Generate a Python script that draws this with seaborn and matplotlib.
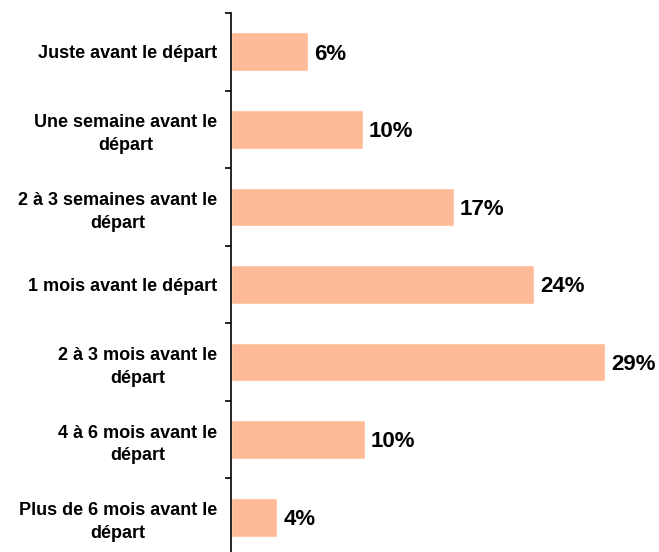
import pandas as pd
import seaborn as sns
import matplotlib.pyplot as plt

# Données
moments = [
    "Juste avant le départ",
    "Une semaine avant le\ndépart",
    "2 à 3 semaines avant le\ndépart",
    "1 mois avant le départ",
    "2 à 3 mois avant le\ndépart",
    "4 à 6 mois avant le\ndépart",
    "Plus de 6 mois avant le\ndépart",
]
pourcentages = [6.0, 10.2, 17.3, 23.5, 29.0, 10.4, 3.6]
etiquettes = ["6%", "10%", "17%", "24%", "29%", "10%", "4%"]

df = pd.DataFrame({"moment": moments, "pct": pourcentages})

sns.set_style("white")
plt.rcParams["font.family"] = ["Liberation Sans", "DejaVu Sans"]

fig = plt.figure(figsize=(6.59, 5.52), dpi=100)
ax = fig.add_axes([231 / 659, -4 / 552, 428 / 659, 543 / 552])

sns.barplot(data=df, x="pct", y="moment", orient="h", color="#FFBA98",
            saturation=1, width=0.5, ax=ax)

# Valeurs à droite des barres
for i, (v, lab) in enumerate(zip(pourcentages, etiquettes)):
    ax.text(v + 0.45, i + 0.03, lab, va="center", ha="left",
            fontsize=16, fontweight="bold", color="black")

ax.set_xlim(0, 428 / 12.9)
ax.set_ylim(6.5, -0.5)
ax.set_xlabel("")
ax.set_ylabel("")

# Axe vertical seul, graduations entre les catégories
for s in ["top", "right", "bottom"]:
    ax.spines[s].set_visible(False)
ax.spines["left"].set_color("black")
ax.spines["left"].set_linewidth(1.2)
ax.set_xticks([])
ax.set_yticks([i - 0.5 for i in range(8)], minor=True)
ax.tick_params(axis="y", which="minor", left=True, length=4, width=1.2, color="black")
ax.tick_params(axis="y", which="major", length=0, pad=10, labelcolor="black")
for t in ax.get_yticklabels():
    t.set_fontsize(13)
    t.set_fontweight("bold")
    t.set_multialignment("center")
    t.set_linespacing(1.45)

fig.savefig("out.png", dpi=100)
